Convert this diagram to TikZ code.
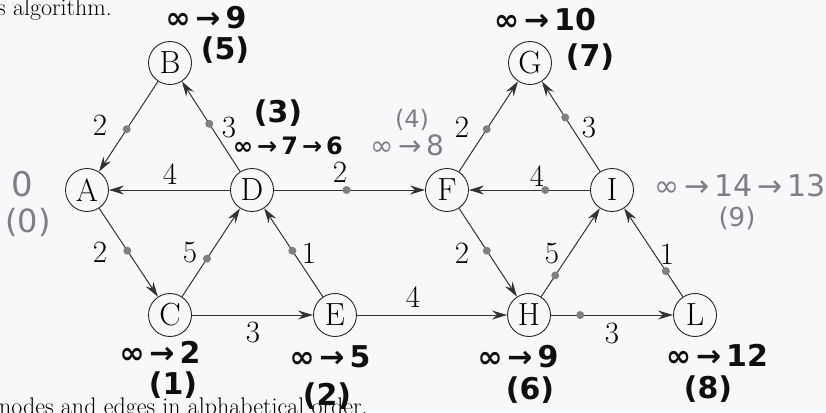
\documentclass[tikz,border=0pt]{standalone}
\usepackage{fontspec}
\newfontfamily\hand{DejaVu Sans}
\usetikzlibrary{arrows.meta}
\definecolor{bgc}{RGB}{247,248,250}
\definecolor{ink}{RGB}{15,15,15}
\definecolor{pencil}{RGB}{125,127,133}
\begin{document}
\begin{tikzpicture}[x=1pt,y=-1pt,
  vert/.style={circle,draw=black!85,line width=0.9pt,minimum size=43pt,inner sep=0pt,fill=bgc,font=\fontsize{32}{32}\selectfont},
  edge/.style={draw=black!80,line width=1pt,-{Stealth[length=15pt,width=9pt,inset=5pt]}},
  wt/.style={font=\fontsize{31}{31}\selectfont,inner sep=0pt},
  gdot/.style={circle,fill=black!50,inner sep=0pt,minimum size=8pt},
  ann/.style={font=\hand\bfseries\fontsize{30}{30}\selectfont,inner sep=0pt,text=ink},
  anng/.style={font=\hand\fontsize{30}{30}\selectfont,inner sep=0pt,text=pencil},
  prose/.style={font=\fontsize{24}{24}\selectfont,inner sep=0pt,anchor=base west}
]
\useasboundingbox (0,0) rectangle (826,412);
\clip (0,0) rectangle (826,412);
\fill[bgc] (0,0) rectangle (826,412);

\node[prose] (t1) at (-3,16) {s algorithm.};
\node[prose] (t2) at (-1,414) {nodes and edges in alphabetical order.};

% vertices
\node[vert] (A) at (87,190) {A};
\node[vert] (B) at (170,63) {B};
\node[vert] (D) at (252,190) {D};
\node[vert] (C) at (170,315) {C};
\node[vert] (E) at (335,315) {E};
\node[vert] (F) at (447,190) {F};
\node[vert] (G) at (530,63) {G};
\node[vert] (I) at (612,190) {I};
\node[vert] (H) at (529,315) {H};
\node[vert] (L) at (695,315) {L};

% edges
\draw[edge] (B) -- (A) node[gdot,pos=.53] (d1) {};
\draw[edge] (D) -- (B) node[gdot,pos=.53] (d2) {};
\draw[edge] (D) -- (A);
\draw[edge] (D) -- (F) node[gdot,pos=.48] (d3) {};
\draw[edge] (A) -- (C) node[gdot,pos=.48] (d4) {};
\draw[edge] (C) -- (D) node[gdot,pos=.43] (d5) {};
\draw[edge] (E) -- (D) node[gdot,pos=.52] (d6) {};
\draw[edge] (C) -- (E);
\draw[edge] (E) -- (H);
\draw[edge] (F) -- (G) node[gdot,pos=.47] (d7) {};
\draw[edge] (I) -- (G) node[gdot,pos=.60] (d8) {};
\draw[edge] (I) -- (F) node[gdot,pos=.37] (d9) {};
\draw[edge] (F) -- (H) node[gdot,pos=.48] (d10) {};
\draw[edge] (H) -- (I) node[gdot,pos=.24] (d11) {};
\draw[edge] (L) -- (I) node[gdot,pos=.29] (d12) {};
\draw[edge] (H) -- (L) node[gdot,pos=.24] (d13) {};

% weights
\node[wt] (w1) at (100,125) {2};
\node[wt] (w2) at (229,128) {3};
\node[wt] (w3) at (170,174) {4};
\node[wt] (w4) at (340,172) {2};
\node[wt] (w5) at (100,252) {2};
\node[wt] (w6) at (190,253) {5};
\node[wt] (w7) at (309,253) {1};
\node[wt] (w8) at (253,332) {3};
\node[wt] (w9) at (413,297) {4};
\node[wt] (w10) at (462,127) {2};
\node[wt] (w11) at (589,128) {3};
\node[wt] (w12) at (537,176) {4};
\node[wt] (w13) at (462,253) {2};
\node[wt] (w14) at (552,254) {5};
\node[wt] (w15) at (667,254) {1};
\node[wt] (w16) at (612,333) {3};

% handwritten annotations
\node[ann] (aB1) at (206,18) {∞\,→\,9};
\node[ann] (aB2) at (225,50) {(5)};
\node[ann] (aD1) at (278,113) {(3)};
\node[ann,font=\hand\bfseries\fontsize{24}{24}\selectfont] (aD2) at (288,146) {∞\,→\,7\,→\,6};
\node[anng,font=\hand\fontsize{24}{24}\selectfont] (aF1) at (412,120) {(4)};
\node[anng,font=\hand\fontsize{28}{28}\selectfont] (aF2) at (407,145) {∞\,→\,8};
\node[ann] (aG1) at (545,20) {∞\,→\,10};
\node[ann] (aG2) at (590,57) {(7)};
\node[anng] (aI1) at (740,186) {∞\,→\,14\,→\,13};
\node[anng,font=\hand\fontsize{26}{26}\selectfont] (aI2) at (737,218) {(9)};
\node[anng,font=\hand\fontsize{34}{34}\selectfont] (aA1) at (22,184) {0};
\node[anng,font=\hand\fontsize{32}{32}\selectfont] (aA2) at (28,222) {(0)};
\node[ann] (aC1) at (160,352) {∞\,→\,2};
\node[ann] (aC2) at (173,385) {(1)};
\node[ann] (aE1) at (330,357) {∞\,→\,5};
\node[ann] (aE2) at (327,396) {(2)};
\node[ann] (aH1) at (518,357) {∞\,→\,9};
\node[ann] (aH2) at (530,390) {(6)};
\node[ann] (aL1) at (717,355) {∞\,→\,12};
\node[ann] (aL2) at (708,389) {(8)};
\end{tikzpicture}
\end{document}
